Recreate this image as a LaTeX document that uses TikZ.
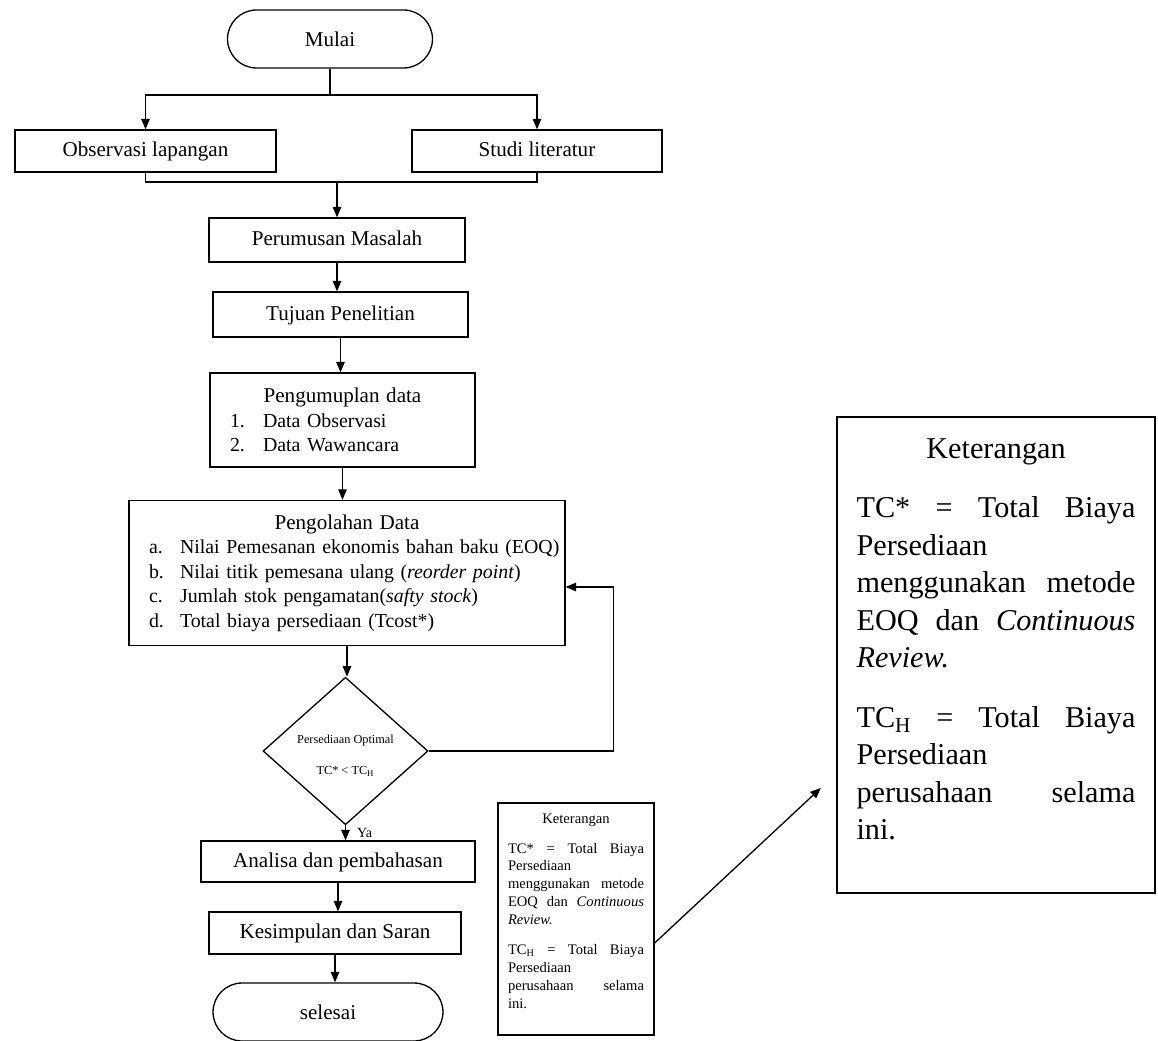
\documentclass[tikz,border=0pt]{standalone}
\usepackage{fontspec}
\setmainfont{Liberation Serif}
\usetikzlibrary{shapes.geometric,arrows.meta}
\begin{document}
\begin{tikzpicture}[x=0.02cm,y=-0.02cm,
  garis/.style={line width=0.75pt},
  panah/.style={garis,-{Triangle[length=0.21cm,width=0.17cm]}},
  terminal/.style={draw,garis,rectangle,rounded corners=0.58cm,minimum height=1.16cm,font=\fontsize{12}{14}\selectfont},
  proses/.style={draw,garis,rectangle,inner sep=0pt,font=\fontsize{12}{14}\selectfont},
  satu/.style={proses,text height=9.4pt,text depth=2.6pt},
  keputusan/.style={draw,garis,diamond,inner sep=0pt,minimum width=3.3cm,minimum height=2.68cm,align=center,font=\fontsize{7}{8}\selectfont}]
\useasboundingbox (0,0) rectangle (1158,1040);

\node[terminal,minimum width=4.1cm] (mulai) at (330,39) {Mulai};
\node[satu,minimum width=5.22cm,minimum height=0.84cm] (obs) at (145.5,151) {Observasi lapangan};
\node[satu,minimum width=5cm,minimum height=0.84cm] (studi) at (537,151) {Studi literatur};
\node[satu,minimum width=5.12cm,minimum height=0.88cm] (rumusan) at (337,240) {Perumusan Masalah};
\node[satu,minimum width=5.1cm,minimum height=0.9cm] (tujuan) at (340.5,314.5) {Tujuan Penelitian};
\node[proses,minimum width=5.3cm,minimum height=1.88cm,inner xsep=0.4cm,text width=4.5cm,align=left,
  font=\fontsize{11.3}{13.9}\selectfont] (kumpul) at (342.5,420)
  {{\fontsize{12}{13.9}\selectfont\makebox[\linewidth]{Pengumuplan data}}\\
   \makebox[0.66cm][l]{1.}Data Observasi\\
   \makebox[0.66cm][l]{2.}Data Wawancara};
\node[proses,minimum width=8.72cm,minimum height=2.9cm,inner xsep=0.1cm,text width=8.52cm,align=left,
  font=\fontsize{11.3}{13.9}\selectfont] (olah) at (347,573)
  {{\fontsize{12}{13.9}\selectfont\makebox[\linewidth]{Pengolahan Data}}\\
   \hspace*{0.3cm}\makebox[0.62cm][l]{a.}Nilai Pemesanan ekonomis bahan baku (EOQ)\\
   \hspace*{0.3cm}\makebox[0.62cm][l]{b.}Nilai titik pemesana ulang (\textit{reorder point})\\
   \hspace*{0.3cm}\makebox[0.62cm][l]{c.}Jumlah stok pengamatan(\textit{safty stock})\\
   \hspace*{0.3cm}\makebox[0.62cm][l]{d.}Total biaya persediaan (Tcost*)};
\node[keputusan] (cek) at (345.5,751) {\rule{0pt}{0.36cm}Persediaan Optimal\\[0.34cm] TC* < TC\textsubscript{H}};
\node[satu,minimum width=5.48cm,minimum height=0.82cm] (analisa) at (338,861.5) {Analisa dan pembahasan};
\node[satu,minimum width=5.04cm,minimum height=0.84cm] (simpul) at (335,933) {Kesimpulan dan Saran};
\node[terminal,minimum width=4.6cm] (selesai) at (328,1012) {selesai};

\node[draw,garis,text width=2.72cm,inner xsep=0.2cm,inner ysep=0pt,minimum height=4.64cm,align=justify,
  font=\fontsize{8.3}{10.2}\selectfont] (ketkecil) at (576,919)
  {\makebox[\linewidth]{Keterangan}\par\vspace{0.24cm}
   TC* \hfill = \hfill Total \hfill Biaya\\
   Persediaan\\
   menggunakan \hfill metode\\
   EOQ \hfill dan \hfill \textit{Continuous}\\
   \textit{Review.}\par\vspace{0.24cm}
   TC\textsubscript{H} \hfill = \hfill Total \hfill Biaya\\
   Persediaan\\
   perusahaan \hfill selama\\
   ini.\rule[-0.32cm]{0pt}{0pt}};
\node[draw,line width=1.4pt,text width=5.58cm,inner xsep=0.39cm,inner ysep=0pt,minimum height=9.52cm,align=justify,
  font=\fontsize{17.2}{21.3}\selectfont] (ketbesar) at (996,655)
  {\makebox[\linewidth]{Keterangan}\par\vspace{0.45cm}
   TC* \hfill = \hfill Total \hfill Biaya\\
   Persediaan\\
   menggunakan \hfill metode\\
   EOQ \hfill dan \hfill \textit{Continuous}\\
   \textit{Review.}\par\vspace{0.45cm}
   TC\textsubscript{H} \hfill = \hfill Total \hfill Biaya\\
   Persediaan\\
   perusahaan \hfill selama\\
   ini.\rule[-0.64cm]{0pt}{0pt}};

\draw[garis] (mulai.south) -- (mulai.south |- 0,95) coordinate (cabang);
\draw[panah] (cabang) -| (obs.north);
\draw[panah] (cabang) -| (studi.north);
\draw[garis] (obs.south) |- (rumusan.north |- 0,182) coordinate (gabung) -| (studi.south);
\draw[panah] (gabung) -- (rumusan.north);
\draw[panah] (rumusan.south) -- (rumusan.south |- tujuan.north);
\draw[panah] (tujuan.south) -- (tujuan.south |- kumpul.north);
\draw[panah] (kumpul.south) -- (kumpul.south |- olah.north);
\draw[panah] (olah.south) -- (olah.south |- cek.north);
\draw[panah] (cek.east) -- ++(185,0) |- ([yshift=-0.28cm]olah.east);
\draw[panah] (cek.south) -- node[right,xshift=0.1cm,font=\fontsize{8}{9}\selectfont]{Ya} (cek.south |- analisa.north);
\draw[panah] (analisa.south) -- (analisa.south |- simpul.north);
\draw[panah] (simpul.south) -- (simpul.south |- selesai.north);
\draw[panah] ([yshift=-0.48cm]ketkecil.east) -- ([xshift=-0.3cm,yshift=-2.66cm]ketbesar.west);
\end{tikzpicture}
\end{document}
